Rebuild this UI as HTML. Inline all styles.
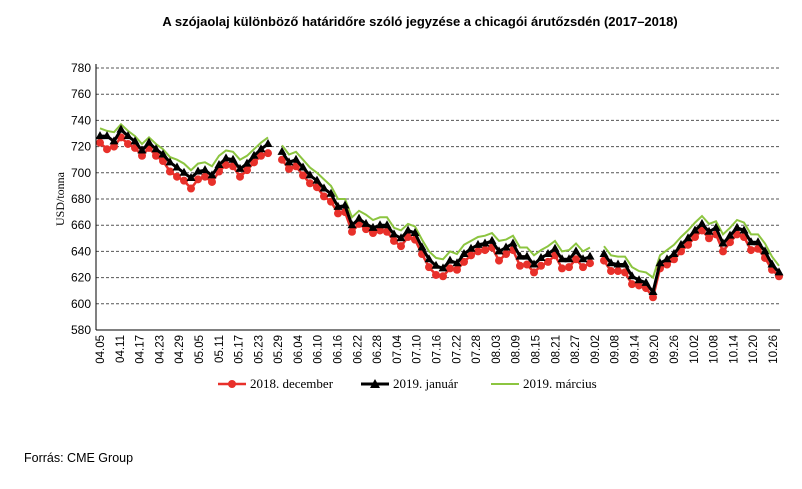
<!DOCTYPE html>
<html><head><meta charset="utf-8"><style>
body{margin:0;background:#fff;width:802px;height:484px;overflow:hidden;font-family:"Liberation Sans",sans-serif}
</style></head><body>
<svg id="c" width="802" height="484" xmlns="http://www.w3.org/2000/svg">
<text x="420" y="26" text-anchor="middle" font-size="13" font-weight="bold" font-family="Liberation Sans, sans-serif">A szójaolaj különböző határidőre szóló jegyzése a chicagói árutőzsdén (2017–2018)</text>
<text x="24" y="462" font-size="12.5" font-family="Liberation Sans, sans-serif">Forrás: CME Group</text>
<text transform="translate(64,199) rotate(-90)" text-anchor="middle" font-size="12" font-family="Liberation Serif, serif">USD/tonna</text>
<g id="grid"></g><g id="series"></g><g id="axes"></g>
<g font-family="Liberation Serif, serif" font-size="13">
 <g><line x1="218" y1="384" x2="246" y2="384" stroke="#e8302a" stroke-width="2.5"/><circle cx="232" cy="384" r="4" fill="#e8302a"/><text x="250" y="388">2018. december</text></g>
 <g><line x1="361" y1="384" x2="389" y2="384" stroke="#000" stroke-width="3"/><polygon points="375,379 380,388 370,388" fill="#000"/><text x="393" y="388">2019. január</text></g>
 <g><line x1="491" y1="384" x2="519" y2="384" stroke="#8cc540" stroke-width="2"/><text x="523" y="388">2019. március</text></g>
</g>
</svg>
<script>
const yTicks=[580,600,620,640,660,680,700,720,740,760,780];
const xLabels=["04.05","04.11","04.17","04.23","04.29","05.05","05.11","05.17","05.23","05.29","06.04","06.10","06.16","06.22","06.28","07.04","07.10","07.16","07.22","07.28","08.03","08.09","08.15","08.21","08.27","09.02","09.08","09.14","09.20","09.26","10.02","10.08","10.14","10.20","10.26"];
const jan=[728,728,724,733,728,724,717,723,718,714,708,704,700,696,701,702,698,706,711,710,703,707,713,718,722,null,716,708,710,704,698,694,688,684,674,675,660,665,661,658,660,660,653,650,656,654,643,634,629,627,633,631,638,642,645,646,648,640,643,646,636,636,630,635,638,642,634,634,640,634,636,null,638,631,630,630,621,618,616,609,631,634,638,645,650,656,661,655,658,646,652,658,656,647,647,640,630,624];
const dec=[723,718,720,727,722,719,713,719,713,709,701,697,694,688,695,697,693,701,706,705,697,702,708,713,715,null,710,703,705,698,692,689,682,678,669,670,655,661,657,654,656,655,648,644,651,649,638,628,622,621,627,626,632,637,640,641,643,633,638,641,629,630,624,629,632,637,627,628,634,628,631,null,633,625,625,624,615,614,612,605,627,630,634,640,645,651,656,650,653,640,647,653,651,641,642,635,626,621];
const mar=[734,732,731,737,732,728,722,727,722,718,712,710,707,702,707,708,705,713,717,716,710,713,718,723,727,null,721,714,716,710,704,700,695,690,680,680,666,671,668,664,666,666,658,656,661,659,649,640,635,634,640,638,645,648,651,652,654,648,649,652,643,643,637,641,644,648,640,641,646,640,643,null,644,637,636,636,628,625,624,620,637,641,645,651,656,662,667,661,663,653,658,664,662,653,653,646,636,629];
const X0=100,X1=779,YT=68,YB=330,VMIN=580,VMAX=780;
const ns="http://www.w3.org/2000/svg";
function sy(v){return YB-(v-VMIN)/(VMAX-VMIN)*(YB-YT);}
function sx(i,n){return X0+i*(X1-X0)/(n-1);}
function mk(t,a,p){const e=document.createElementNS(ns,t);for(const k in a)e.setAttribute(k,a[k]);p.appendChild(e);return e;}
const grid=document.getElementById('grid'),axes=document.getElementById('axes'),ser=document.getElementById('series');
yTicks.forEach(v=>{
 if(v>VMIN){const g=mk('line',{x1:96,x2:780,y1:sy(v),y2:sy(v),stroke:'#555','stroke-width':1,'stroke-dasharray':'3,2'},grid);
 
 }
 const t=mk('text',{x:91,y:sy(v)+4,'text-anchor':'end','font-size':12,'font-family':'Liberation Sans, sans-serif'},axes);
 t.textContent=v;
 
 
});
const ax=mk('line',{x1:96,x2:96,y1:YT-4,y2:YB,stroke:'#000','stroke-width':1},axes);


const bx=mk('line',{x1:96,x2:780,y1:YB,y2:YB,stroke:'#000','stroke-width':1},axes);


xLabels.forEach((l,i)=>{
 const x=100+i*(773-100)/(xLabels.length-1);
 const t=mk('text',{transform:`translate(${x+4},335) rotate(-90)`,'text-anchor':'end','font-size':11.5,'font-family':'Liberation Sans, sans-serif'},axes);
 t.textContent=l;
 
 
});
function path(arr){let d='',pen=false;arr.forEach((v,i)=>{if(v==null){pen=false;return;}d+=(pen?'L':'M')+sx(i,arr.length).toFixed(1)+','+sy(v).toFixed(1);pen=true;});return d;}
const pd=mk('path',{d:path(dec),fill:'none',stroke:'#e8302a','stroke-width':2.5},ser);


dec.forEach((v,i)=>{if(v==null)return;const c=mk('circle',{cx:sx(i,dec.length),cy:sy(v),r:4,fill:'#e8302a'},ser);
 
 });
const pm=mk('path',{d:path(mar),fill:'none',stroke:'#8cc540','stroke-width':2},ser);


const pj=mk('path',{d:path(jan),fill:'none',stroke:'#000','stroke-width':3},ser);


jan.forEach((v,i)=>{if(v==null)return;const x=sx(i,jan.length),y=sy(v);const t=mk('polygon',{points:`${x},${y-5} ${x+4.5},${y+3} ${x-4.5},${y+3}`,fill:'#000'},ser);
 
 });
</script>
</body></html>
